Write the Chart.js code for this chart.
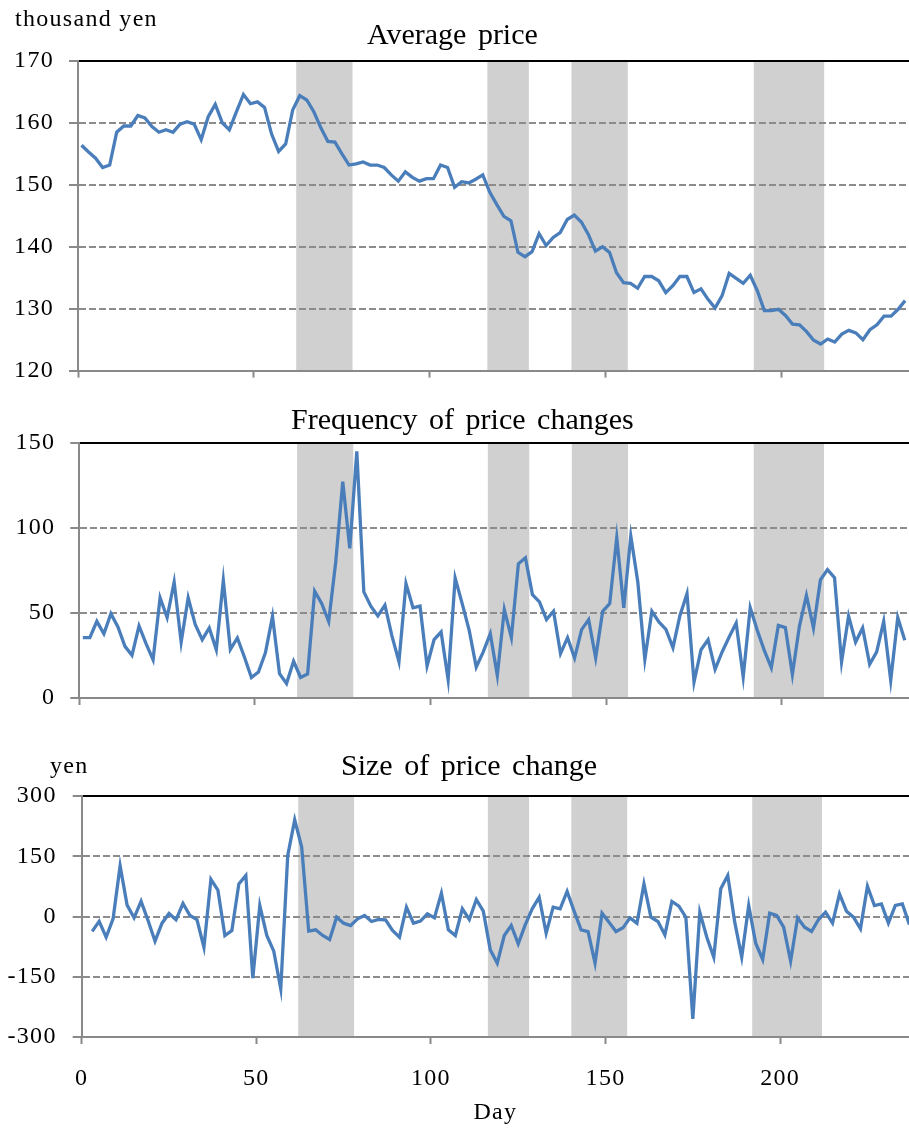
<!DOCTYPE html>
<html>
<head>
<meta charset="utf-8">
<script src="https://cdn.jsdelivr.net/npm/chart.js@4.4.1/dist/chart.umd.min.js"></script>
<style>
  body { margin: 0; background: #fff; }
  #wrap { position: relative; width: 909px; height: 1133px; overflow: hidden;
          font-family: 'Liberation Serif', 'Times New Roman', serif; color: #000; }
  canvas { position: absolute; left: 0; }
  .lbl { position: absolute; white-space: nowrap; line-height: 1; }
  .ttl { font-size: 30px; word-spacing: 4px; }
  .unit { font-size: 24px; letter-spacing: 1.3px; }
</style>
</head>
<body>
<div id="wrap">
  <canvas id="price" width="909" height="400" style="top:0"></canvas>
  <canvas id="freq" width="909" height="333" style="top:400px"></canvas>
  <canvas id="size" width="909" height="400" style="top:733px"></canvas>
  <div class="lbl unit" style="left:15px;top:6px">thousand yen</div>
  <div class="lbl ttl" style="left:367px;top:19px">Average price</div>
  <div class="lbl ttl" style="left:291px;top:404px">Frequency of price changes</div>
  <div class="lbl unit" style="left:50px;top:753px">yen</div>
  <div class="lbl ttl" style="left:341px;top:750px">Size of price change</div>
</div>
<script>
// day of each observation (every other day)
const days = [1,3,5,7,9,11,13,15,17,19,21,23,25,27,29,31,33,35,37,39,41,43,45,47,49,51,53,55,57,59,
  61,63,65,67,69,71,73,75,77,79,81,83,85,87,89,91,93,95,97,99,101,103,105,107,109,111,113,115,117,119,
  121,123,125,127,129,131,133,135,137,139,141,143,145,147,149,151,153,155,157,159,161,163,165,167,169,171,173,175,177,179,
  181,183,185,187,189,191,193,195,197,199,201,203,205,207,209,211,213,215,217,219,221,223,225,227,229,231,233,235];
// size of change starts one observation later
const sizeDays = [3,5,7,9,11,13,15,17,19,21,23,25,27,29,31,33,35,37,39,41,43,45,47,49,51,53,55,57,59,61,
  63,65,67,69,71,73,75,77,79,81,83,85,87,89,91,93,95,97,99,101,103,105,107,109,111,113,115,117,119,121,
  123,125,127,129,131,133,135,137,139,141,143,145,147,149,151,153,155,157,159,161,163,165,167,169,171,173,175,177,179,181,
  183,185,187,189,191,193,195,197,199,201,203,205,207,209,211,213,215,217,219,221,223,225,227,229,231,233,235,237];

// thousand yen
const avgPrice = [
  156.4, 155.3, 154.3, 152.8, 153.2, 158.5, 159.5, 159.5, 161.2, 160.8,
  159.4, 158.5, 158.9, 158.5, 159.8, 160.2, 159.8, 157.3, 161.0, 163.0,
  160.0, 158.9, 161.8, 164.6, 163.1, 163.4, 162.5, 158.2, 155.4, 156.6,
  162.1, 164.4, 163.7, 161.8, 159.2, 157.0, 156.9, 155.0, 153.2, 153.4,
  153.7, 153.2, 153.2, 152.8, 151.6, 150.6, 152.1, 151.2, 150.6, 151.0,
  151.0, 153.2, 152.8, 149.6, 150.5, 150.3, 150.9, 151.6, 148.8, 146.8,
  144.9, 144.2, 139.1, 138.4, 139.2, 142.1, 140.2, 141.5, 142.3, 144.4,
  145.1, 144.0, 142.0, 139.3, 140.0, 139.1, 135.8, 134.2, 134.1, 133.3,
  135.2, 135.2, 134.5, 132.6, 133.7, 135.2, 135.2, 132.6, 133.2, 131.5,
  130.1, 132.1, 135.7, 134.9, 134.1, 135.4, 132.9, 129.7, 129.7, 129.9,
  128.9, 127.5, 127.4, 126.3, 124.9, 124.3, 125.1, 124.6, 125.9, 126.5,
  126.1, 125.0, 126.6, 127.4, 128.8, 128.8, 129.9, 131.3];

const priceFreq = [
  35.5, 35.5, 45.1, 37.8, 49.6, 41.8, 30.4, 25.1, 42.4, 32.0,
  22.5, 59.0, 47.3, 68.2, 32.9, 59.0, 43.3, 34.3, 41.2, 28.4,
  69.2, 28.6, 35.3, 24.1, 12.0, 15.3, 26.7, 48.0, 14.3, 8.5,
  21.6, 12.1, 14.2, 62.8, 55.6, 45.0, 80.0, 127.2, 88.0, 145.1,
  62.4, 54.0, 48.3, 54.6, 36.5, 21.3, 67.3, 53.1, 54.1, 18.8,
  34.3, 38.8, 10.8, 70.6, 55.5, 39.8, 18.2, 27.1, 37.8, 13.3,
  52.0, 35.5, 79.0, 82.5, 60.8, 56.5, 46.1, 51.0, 26.1, 35.5,
  23.5, 40.2, 46.1, 23.7, 51.0, 55.5, 94.3, 53.1, 95.3, 68.2,
  22.7, 51.0, 44.7, 40.4, 29.6, 48.6, 61.4, 9.4, 28.4, 34.3,
  16.9, 27.1, 35.9, 44.1, 12.4, 53.1, 39.8, 28.0, 17.8, 42.7,
  41.4, 13.9, 42.2, 60.4, 41.2, 69.6, 75.5, 70.8, 21.2, 48.2,
  32.9, 41.2, 19.8, 27.1, 45.1, 10.4, 47.3, 34.0];

// yen
const changeSize = [
  -37.0, -12.0, -51.6, -5.0, 126.5, 28.3, -3.3, 37.7, -10.0, -61.5,
  -16.6, 7.5, -8.3, 32.4, 2.5, -7.9, -76.5, 92.7, 65.7, -47.3,
  -34.9, 81.3, 102.1, -153.6, 27.4, -47.3, -86.3, -180.1, 151.9, 240.7,
  172.6, -36.5, -33.2, -47.3, -57.3, -1.7, -16.6, -22.4, -5.8, 2.5,
  -12.5, -7.5, -8.3, -34.9, -51.5, 23.2, -16.6, -11.6, 6.6, -3.3,
  58.1, -33.2, -47.3, 19.1, -7.5, 42.3, 13.3, -83.0, -116.2, -47.3,
  -22.4, -68.1, -20.8, 19.1, 48.1, -41.5, 23.2, 19.1, 62.3, 13.3,
  -33.2, -37.4, -116.2, 8.3, -14.1, -37.4, -28.2, -3.3, -16.6, 81.3,
  -1.7, -12.5, -45.7, 37.4, 25.7, -1.7, -254.8, 10.8, -51.5, -101.3,
  68.9, 102.1, -14.1, -101.3, 27.4, -66.4, -107.1, 8.3, 2.5, -26.6,
  -111.2, -3.3, -26.6, -37.4, -7.5, 10.8, -16.6, 56.4, 13.3, -1.7,
  -30.7, 75.5, 27.4, 31.5, -16.6, 27.4, 31.5, -20.0];

// shaded periods (days)
const bandStart = [62, 116.3, 140.2, 192];
const bandEnd = [78, 128.1, 156.2, 212];

const AXIS_GREY = '#898989';
const GRID_GREY = '#8c8c8c';
const LINE_BLUE = '#4a7ebb';
const SERIF = "'Liberation Serif', 'Times New Roman', serif";

const shadeBands = {
  id: 'shadeBands',
  beforeDraw(chart) {
    const {ctx, chartArea, scales} = chart;
    ctx.save();
    ctx.fillStyle = '#d0d0d0';
    bandStart.forEach((s, i) => {
      const x1 = scales.x.getPixelForValue(s);
      const x2 = scales.x.getPixelForValue(bandEnd[i]);
      ctx.fillRect(x1, chartArea.top, x2 - x1, chartArea.bottom - chartArea.top);
    });
    ctx.restore();
    // the original labels are a bit wider spaced
    ctx.letterSpacing = '1.3px';
  }
};

function drawPanel(id, xs, ys, o) {
  const points = xs.map((x, i) => ({x, y: ys[i]}));
  return new Chart(document.getElementById(id), {
    type: 'line',
    data: {
      datasets: [{
        data: points,
        borderColor: LINE_BLUE,
        borderWidth: 3.3,
        pointRadius: 0,
        tension: 0
      }]
    },
    options: {
      responsive: false,
      animation: false,
      devicePixelRatio: 1,
      layout: {padding: {top: o.padTop, bottom: o.padBottom, left: 0, right: 0}},
      plugins: {legend: {display: false}, tooltip: {enabled: false}},
      scales: {
        x: {
          type: 'linear',
          min: 0,
          max: o.xMax,
          ticks: {
            stepSize: 50,
            includeBounds: false,
            display: !!o.xLabels,
            padding: 20,
            color: '#000',
            font: {family: SERIF, size: 24}
          },
          grid: {drawOnChartArea: false, tickLength: 7, tickWidth: 2, tickColor: AXIS_GREY},
          border: {color: AXIS_GREY, width: 2},
          title: {
            display: !!o.xTitle,
            text: o.xTitle || '',
            color: '#000',
            font: {family: SERIF, size: 24},
            padding: 0
          },
          afterFit(scale) { scale.height = o.xHeight; }
        },
        y: {
          min: o.yMin,
          max: o.yMax,
          ticks: {
            stepSize: o.yStep,
            padding: o.yPad,
            color: '#000',
            font: {family: SERIF, size: 24}
          },
          grid: {
            color: (c) => {
              if (!c.tick) return GRID_GREY;
              if (c.tick.value === o.yMax) return '#000';
              if (c.tick.value === o.yMin) return 'rgba(0,0,0,0)';
              return GRID_GREY;
            },
            lineWidth: 2,
            tickLength: 9,
            tickWidth: 2,
            tickColor: AXIS_GREY
          },
          border: {
            color: AXIS_GREY,
            width: 2,
            dash: (c) => (c.tick && c.tick.value !== o.yMax) ? [7, 3] : []
          },
          afterFit(scale) { scale.width = o.yWidth; }
        }
      }
    },
    plugins: [shadeBands]
  });
}

drawPanel('price', days, avgPrice, {
  padTop: 61, padBottom: 7, xHeight: 20, xMax: 236.1,
  yMin: 120, yMax: 170, yStep: 10, yWidth: 78, yPad: 15
});
drawPanel('freq', days, priceFreq, {
  padTop: 43, padBottom: 15, xHeight: 20, xMax: 236.2,
  yMin: 0, yMax: 150, yStep: 50, yWidth: 79.3, yPad: 15
});
drawPanel('size', sizeDays, changeSize, {
  padTop: 63, padBottom: 6, xHeight: 90, xMax: 236.9, xLabels: true, xTitle: 'Day',
  yMin: -300, yMax: 300, yStep: 150, yWidth: 81.7, yPad: 16
});
</script>
</body>
</html>
